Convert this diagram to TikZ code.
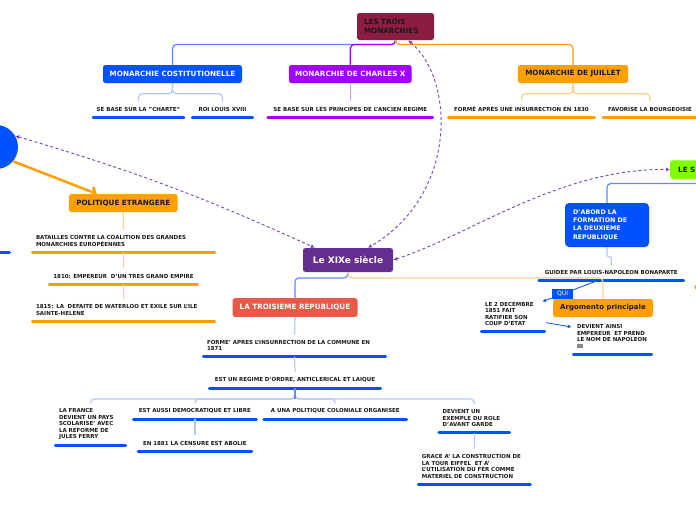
\documentclass[tikz,border=0pt]{standalone}
\usepackage{fontspec}
\setmainfont{DejaVu Sans}
\usepackage{tikz}
\usetikzlibrary{arrows.meta, positioning, shapes.geometric}

\definecolor{mmblue}{HTML}{0052FF}
\definecolor{mmlineblue}{HTML}{5B8DFF}
\definecolor{mmpaleblue}{HTML}{B4C8FF}
\definecolor{mmpurple}{HTML}{A000FF}
\definecolor{mmpalepurple}{HTML}{D39BFF}
\definecolor{mmorange}{HTML}{FFA000}
\definecolor{mmpaleorange}{HTML}{FFD08A}
\definecolor{mmmaroon}{HTML}{8C1C40}
\definecolor{mmxix}{HTML}{662D91}
\definecolor{mmred}{HTML}{EB5847}
\definecolor{mmgreen}{HTML}{80FF00}
\definecolor{mmdash}{HTML}{7A45B0}
\definecolor{mmtext}{HTML}{1A1A1A}

\begin{document}
\begin{tikzpicture}[
                x=1pt, y=-1pt,
                mm/.style={rounded corners=2.5pt, inner sep=0pt, minimum height=18pt, align=center,
                           text=mmtext, font=\bfseries\fontsize{7.2}{9}\selectfont},
                sub/.style={anchor=south, inner xsep=5pt, inner ysep=5.5pt, text=mmtext,
                            font=\bfseries\fontsize{5.5}{6.5}\selectfont,
                            append after command={(\tikzlastnode.south west) edge[uline=#1] (\tikzlastnode.south east)}},
                sub/.default=mmblue,
                uline/.style={draw=#1, line width=3pt, line cap=round, shorten <=1.5pt, shorten >=1.5pt},
                ln/.style={line width=1.2pt, rounded corners=4pt},
                rel/.style={draw=mmdash, line width=0.9pt, dash pattern=on 3pt off 2.5pt,
                            {Latex[length=4pt,width=4pt]}-{Latex[length=4pt,width=4pt]}},
                relblue/.style={draw=mmblue, line width=0.8pt, -{Latex[length=4pt,width=3.5pt]}},
                qui/.style={fill=mmblue, text=white, inner sep=0pt, minimum width=21pt, minimum height=10.3pt,
                            font=\fontsize{6}{6}\selectfont}
            ]

            \fill[white] (0,0) rectangle (696,520);
            \useasboundingbox (0,0) rectangle (696,520);

            % Racine : les trois monarchies
            \node[mm, fill=mmmaroon, minimum width=77, minimum height=27, text width=63, align=left] (root) at (395.5,26.5) {LES TROIS\\MONARCHIES};

            \node[mm, fill=mmblue, text=white, minimum width=139] (mc) at (172.5,74) {MONARCHIE COSTITUTIONELLE};
            \node[mm, fill=mmpurple, text=white, minimum width=122.7] (mcx) at (350.3,74) {MONARCHIE DE CHARLES X};
            \node[mm, fill=mmorange, minimum width=110.3] (mj) at (573,74) {MONARCHIE DE JUILLET};

            \node[sub, minimum width=93] (charte) at (138.5,117) {SE BASE SUR LA "CHARTE"};
            \node[sub, minimum width=63] (louis) at (222.5,117) {ROI LOUIS XVIII};
            \node[sub=mmpurple, minimum width=167.3] (ancien) at (350.3,117) {SE BASE SUR LES PRINCIPES DE L'ANCIEN REGIME};
            \node[sub=mmorange, minimum width=149] (insurr) at (521.5,117) {FORMÉ APRÈS UNE INSURRECTION EN 1830};
            \node[sub=mmorange, minimum width=96.6] (bourg) at (650,117) {FAVORISE LA BOURGEOISIE};

            \draw[ln, draw=mmlineblue] (root.south) -- ++(0,4.3) -| (mc.north);
            \draw[ln, draw=mmpurple] (root.south) -- ++(0,4.3) -| (mcx.north);
            \draw[ln, draw=mmorange] (root.south) -- ++(0,4.3) -| (mj.north);
            \draw[ln, draw=mmpaleblue] (mc.south) -- ++(0,10.5) -| (charte.north);
            \draw[ln, draw=mmpaleblue] (mc.south) -- ++(0,10.5) -| (louis.north);
            \draw[ln, draw=mmpalepurple] (mcx.south) -- (ancien.north);
            \draw[ln, draw=mmpaleorange] (mj.south) -- ++(0,10.5) -| (insurr.north);
            \draw[ln, draw=mmpaleorange] (mj.south) -- ++(0,10.5) -| (bourg.north);

            % Napoleon et la politique etrangere
            \node[circle, fill=mmblue, minimum size=44pt, inner sep=0pt] (napo) at (-4,147) {};
            \draw[mmblue, line width=3pt, line cap=round] (-5,252) -- (9.3,252);

            \node[mm, fill=mmorange, minimum width=108.7] (pe) at (123.3,203) {POLITIQUE ETRANGERE};
            \node[sub=mmorange, text width=175, align=left] (bataille) at (123.5,252) {BATAILLES CONTRE LA COALITION DES GRANDES\\MONARCHIES EUROPÉENNES};
            \node[sub=mmorange, minimum width=151] (empire) at (123.5,284) {1810: EMPEREUR\ \ D'UN TRES GRAND EMPIRE};
            \node[sub=mmorange, text width=175, align=left] (waterloo) at (123.5,321) {1815: LA\ \ DEFAITE DE WATERLOO ET EXILE SUR L'ILE\\SAINTE-HELENE};

            \draw[mmorange, line width=2.5pt, -{Straight Barb[length=4pt,width=10pt]}] (napo.-40) -- ([xshift=28pt]pe.north west);
            \draw[ln, draw=mmpaleorange] (pe.south) -- (bataille.north);
            \draw[ln, draw=mmpaleorange] (bataille.south) -- (empire.north);
            \draw[ln, draw=mmpaleorange] (empire.south) -- (waterloo.north);

            % Centre
            \node[mm, fill=mmxix, text=white, minimum width=90, minimum height=24, font=\bfseries\fontsize{9}{10}\selectfont] (xix) at (348,260) {Le XIXe siècle};

            % Troisieme republique
            \node[mm, fill=mmred, text=white, minimum width=125, minimum height=18.7] (troisieme) at (295,307.5) {LA TROISIEME REPUBLIQUE};
            \node[sub, text width=175, align=left] (forme) at (294.5,356.7) {FORME' APRES L'INSURRECTION DE LA COMMUNE EN\\1871};
            \node[sub, minimum width=173.7] (regime) at (295,388) {EST UN REGIME D'ORDRE, ANTICLERICAL ET LAIQUE};
            \node[sub, text width=63, align=left] (france) at (90.5,445.7) {LA FRANCE\\DEVIENT UN PAYS\\SCOLARISE' AVEC\\LA REFORME DE\\JULES FERRY};
            \node[sub, minimum width=125.7] (aussi) at (194.9,419.3) {EST AUSSI DEMOCRATIQUE ET LIBRE};
            \node[sub, minimum width=116.3] (censure) at (194.9,451) {EN 1881 LA CENSURE EST ABOLIE};
            \node[sub, minimum width=145.3] (colon) at (335.3,419.3) {A UNA POLITIQUE COLONIALE ORGANISEE};
            \node[sub, text width=63.3, align=left] (avant) at (474.3,432.7) {DEVIENT UN\\EXEMPLE DU ROLE\\D'AVANT GARDE};
            \node[sub, text width=104.7, align=left] (grace) at (474.3,484) {GRACE A' LA CONSTRUCTION DE\\LA TOUR EIFFEL\ \ ET A'\\L'UTILISATION DU FER COMME\\MATERIEL DE CONSTRUCTION};

            \draw[ln, draw=mmlineblue] (xix.south) -- ++(0,5.7) -| (troisieme.north);
            \draw[ln, draw=mmpaleblue] (troisieme.south) -- (forme.north);
            \draw[ln, draw=mmpaleblue] (forme.south) -- (regime.north);
            \foreach \k in {france, aussi, colon, avant}
                \draw[ln, draw=mmpaleblue] (regime.south) -- ++(0,11) -| (\k.north);
            \draw[ln, draw=mmlineblue, rounded corners=0pt] (regime.south) -- ++(0,11);
            \draw[ln, draw=mmpaleblue] (aussi.south) -- (censure.north);
            \draw[ln, draw=mmpaleblue] (avant.south) -- (grace.north);

            % Second empire
            \node[mm, fill=mmgreen, anchor=west, minimum width=90, minimum height=18.5, text width=74, align=left] (second) at (670,169.5) {LE S};
            \node[mm, fill=mmblue, text=white, minimum width=84, minimum height=44, text width=68, align=left,
                  rounded corners=4pt, font=\bfseries\fontsize{6.3}{8.2}\selectfont] (dabord) at (607,225) {D'ABORD LA\\FORMATION DE\\LA DEUXIEME\\REPUBLIQUE};
            \node[sub, minimum width=147.3] (guidee) at (611.3,280.7) {GUIDEE PAR LOUIS-NAPOLEON BONAPARTE};
            \node[mm, fill=mmorange, minimum width=100, font=\bfseries\fontsize{7}{8}\selectfont] (argo) at (603,308) {Argomento principale};
            \node[sub, text width=56, align=left] (decembre) at (513,331.7) {LE 2 DECEMBRE\\1851 FAIT\\RATIFIER SON\\COUP D'ETAT};
            \node[sub, text width=71, align=left] (devient) at (612.5,354) {DEVIENT AINSI\\EMPEREUR\ \ ET PREND\\LE NOM DE NAPOLEON\\III};
            \fill[mmorange] (697,287) circle (2.5pt);

            \draw[ln, draw=mmlineblue] (second.south) -- ++(0,4.5) -| (dabord.north);
            \draw[ln, draw=mmpaleblue, rounded corners=2pt] (dabord.south) -- ++(0,9.5) -| (guidee.north);
            \draw[ln, draw=mmpaleorange] (xix.south) -- ++(0,5.7) -| (argo.north);
            \draw[relblue] ([xshift=-14pt]guidee.south) -- node[qui, pos=0.63] {QUI} ([xshift=-4pt, yshift=-5pt]decembre.north east);
            \draw[relblue] ([yshift=9pt]decembre.south east) -- ([yshift=-8pt]devient.north west);

            % Liens pointilles
            \draw[rel] (napo.30) to[bend left=4] ([xshift=12pt]xix.north west);
            \draw[rel] ([xshift=-26pt]root.south east) .. controls (455,80) and (458,195) .. ([xshift=20pt]xix.north);
            \draw[rel] (xix.east) .. controls (470,235) and (560,168) .. (second.west);

        \end{tikzpicture}
\end{document}
